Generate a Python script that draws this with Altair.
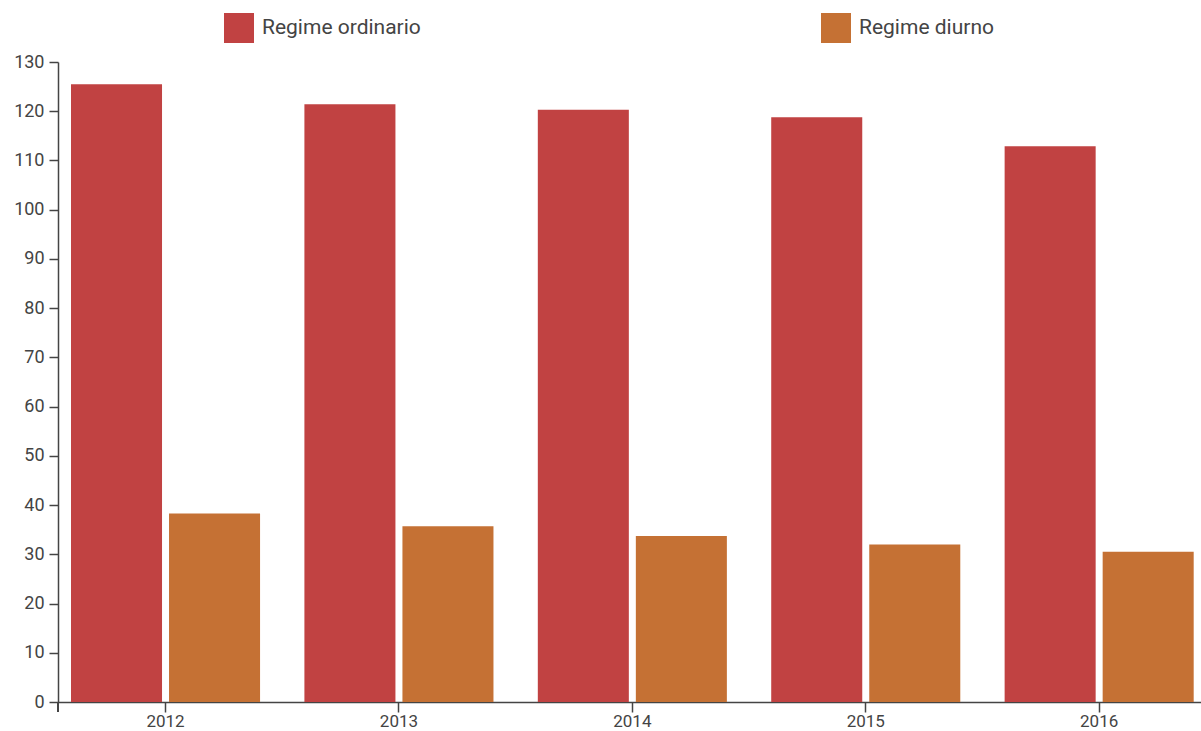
import altair as alt
import pandas as pd

years = ["2012", "2013", "2014", "2015", "2016"]
series = ["Regime ordinario", "Regime diurno"]
ordinario = [125.5, 121.4, 120.3, 118.8, 112.9]
diurno = [38.3, 35.7, 33.7, 32.0, 30.5]
colors = ["#C14242", "#C57134"]

rows = []
for i, y in enumerate(years):
    rows.append({"anno": y, "regime": series[0], "valore": ordinario[i]})
    rows.append({"anno": y, "regime": series[1], "valore": diurno[i]})
df = pd.DataFrame(rows)

FONT = "Roboto"
TXT = "#444444"

bars = alt.Chart(df).mark_bar().encode(
    x=alt.X("anno:N", sort=years,
            scale=alt.Scale(paddingInner=0.19, paddingOuter=0.0435, align=0.64),
            axis=alt.Axis(title=None, labelAngle=0, tickSize=10, labelPadding=1,
                          labelFontSize=17, labelColor=TXT, domainColor=TXT,
                          tickColor=TXT, domainWidth=1.5, tickWidth=1.5, labelFont=FONT)),
    xOffset=alt.XOffset("regime:N", sort=series, scale=alt.Scale(paddingInner=0.0714)),
    y=alt.Y("valore:Q", scale=alt.Scale(domain=[0, 130], nice=False),
            axis=alt.Axis(title=None, values=list(range(0, 131, 10)), tickSize=9,
                          labelPadding=5, labelFontSize=18, labelColor=TXT,
                          domainColor=TXT, tickColor=TXT, domainWidth=1.5,
                          tickWidth=1.5, grid=False, labelFont=FONT)),
    color=alt.Color("regime:N", sort=series,
                    scale=alt.Scale(domain=series, range=colors),
                    legend=alt.Legend(orient="none", legendX=166, legendY=-49,
                                      direction="horizontal", title=None,
                                      symbolType="square", symbolSize=900,
                                      symbolStrokeWidth=0, labelFontSize=21,
                                      labelFont=FONT, labelColor=TXT,
                                      labelOffset=8, columnPadding=400,
                                      labelLimit=0)),
)

outer_tick = alt.Chart(df).mark_rule(color=TXT, strokeWidth=1.5).encode(
    x=alt.value(0), y=alt.value(640), y2=alt.value(650)
)

chart = alt.layer(bars, outer_tick).properties(
    width=1143, height=640,
    autosize=alt.AutoSizeParams(type="none"),
    padding={"left": 58, "top": 62, "right": 0, "bottom": 29},
).configure_view(stroke=None).configure_axis(grid=False)

chart.save("out.html", embed_options={"renderer": "svg", "actions": False})
